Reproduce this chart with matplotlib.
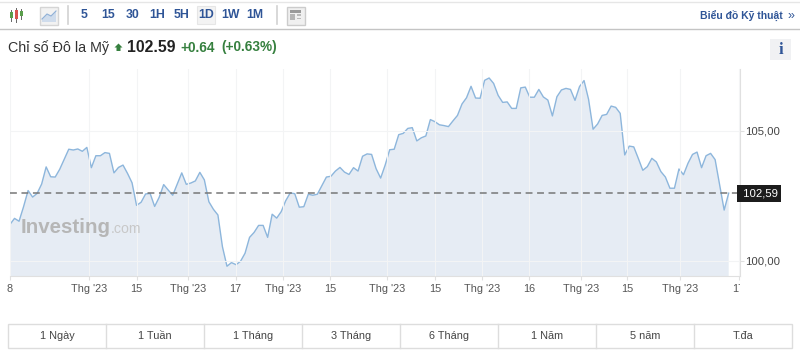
import numpy as np
import matplotlib.pyplot as plt
from matplotlib.patches import Rectangle, Polygon

plt.rcParams["font.family"] = ["Liberation Sans", "DejaVu Sans"]

W, H = 800, 353

prices = [
    101.39, 101.62, 101.51, 102.07, 102.69, 102.44, 102.58, 102.94, 103.60, 103.22,
    103.21, 103.51, 103.89, 104.28, 104.25, 104.29, 104.20, 104.35, 103.57, 104.03,
    104.03, 104.15, 104.12, 103.37, 103.58, 103.67, 103.35, 102.99, 102.12, 102.24,
    102.56, 102.58, 102.08, 102.43, 102.92, 102.71, 102.51, 102.94, 103.37, 102.93,
    102.98, 103.06, 103.39, 103.10, 102.26, 101.97, 101.75, 100.53, 99.78, 99.92,
    99.84, 99.97, 100.28, 100.89, 101.08, 101.35, 101.35, 100.89, 101.78, 101.63,
    101.88, 102.30, 102.60, 102.57, 102.05, 102.07, 102.55, 102.51, 102.55, 102.88,
    103.21, 103.24, 103.44, 103.58, 103.40, 103.31, 103.57, 103.44, 104.01, 104.10,
    104.08, 103.53, 103.17, 103.67, 104.26, 104.28, 104.84, 104.89, 105.08, 105.11,
    104.60, 104.72, 104.79, 105.42, 105.34, 105.22, 105.19, 105.15, 105.37, 105.58,
    106.02, 106.26, 106.70, 106.25, 106.24, 106.93, 107.02, 106.81, 106.35, 106.08,
    106.10, 105.85, 105.85, 106.64, 106.67, 106.28, 106.28, 106.58, 106.29, 106.17,
    105.56, 106.30, 106.56, 106.62, 106.58, 106.16, 106.69, 106.92, 106.20, 105.05,
    105.25, 105.58, 105.62, 105.94, 105.89, 105.66, 104.06, 104.40, 104.37, 103.93,
    103.47, 103.61, 103.93, 103.79, 103.42, 103.21, 102.78, 102.78, 103.52, 103.30,
    103.74, 104.08, 104.17, 103.57, 104.03, 104.12, 103.88, 102.90, 101.94, 102.59,
]
last_price = 102.59
x_ticks = [0, 17.4, 28, 39.3, 49.9, 60.5, 70.9, 83.4, 94, 104.4, 114.8, 126.3, 136.6, 148.3, 161.2]
x_labels = ["8", "Thg '23", "15", "Thg '23", "17", "Thg '23", "15", "Thg '23", "15",
            "Thg '23", "16", "Thg '23", "15", "Thg '23", "17"]
y_ticks = [100, 105]
y_labels = ["100,00", "105,00"]
intervals = ["5", "15", "30", "1H", "5H", "1D", "1W", "1M"]
ranges = ["1 Ngày", "1 Tuần", "1 Tháng", "3 Tháng", "6 Tháng", "1 Năm", "5 năm", "T.đa"]

BLUE = "#2f5597"
GREEN = "#36803f"
DARK = "#333333"
GRID = "#f3f4f5"

fig = plt.figure(figsize=(W / 100, H / 100), dpi=100, facecolor="white")

# page furniture in pixel coordinates
bg = fig.add_axes([0, 0, 1, 1])
bg.set_xlim(0, W)
bg.set_ylim(H, 0)
bg.axis("off")

bg.plot([0, W], [1.5, 1.5], color="#e6e6e6", lw=1)
bg.plot([0, W], [28.5, 28.5], color="#c4c4c4", lw=1)

# candle icon
for cx, top, bottom, col in [(11, 10, 21, "#5a9e4b"), (16, 8, 22, "#d9534f"), (21, 9, 19, "#5a9e4b")]:
    bg.plot([cx, cx], [top, bottom], color="#666666", lw=0.7)
    bg.add_patch(Rectangle((cx - 1.5, top + 2), 3, bottom - top - 5, fc=col, ec="none", zorder=3))

# line icon
bg.add_patch(Rectangle((39.5, 6.5), 18, 18, fc="#f2f2f2", ec="#d5d5d5", lw=1))
bg.add_patch(Polygon([(42, 19), (47, 14), (51, 16), (56, 11), (56, 22), (42, 22)], fc="#cfdcec", ec="none"))
bg.plot([42, 47, 51, 56], [19, 14, 16, 11], color="#8fb0d6", lw=0.8)

bg.plot([67.5, 67.5], [6, 24], color="#d2d2d2", lw=1.2)
bg.plot([277, 277], [6, 24], color="#d2d2d2", lw=1.2)

bg.add_patch(Rectangle((197, 6), 18, 18, fc="#f3f3f3", ec="#e6e6e6", lw=0.8))
for label, px in zip(intervals, [84, 108.5, 133, 157, 182, 206, 230.5, 255]):
    bg.text(px, 15, label, color=BLUE, fontsize=8.8, fontweight="bold", ha="center", va="center")

# news icon
bg.add_patch(Rectangle((286.5, 6.5), 18, 18, fc="#f0f0f0", ec="#cccccc", lw=1))
bg.add_patch(Rectangle((290, 9.5), 11, 3, fc="#9a9a9a", ec="none"))
bg.add_patch(Rectangle((290, 14), 5, 6, fc="#b5b5b5", ec="none"))
bg.add_patch(Rectangle((296.5, 14), 4.5, 1.5, fc="#bbbbbb", ec="none"))
bg.add_patch(Rectangle((296.5, 17.5), 4.5, 1.5, fc="#bbbbbb", ec="none"))

bg.text(783, 15, "Biểu đồ Kỹ thuật", color=BLUE, fontsize=7.5, fontweight="bold", ha="right", va="center")
bg.text(791, 15.5, "»", color=BLUE, fontsize=9, ha="center", va="center")

# title row
bg.text(8, 52, "Chỉ số Đô la Mỹ", color=DARK, fontsize=10.3, va="baseline")
bg.add_patch(Polygon([(118.5, 43.5), (122.5, 47.5), (120.5, 47.5), (120.5, 51),
                      (116.5, 51), (116.5, 47.5), (114.5, 47.5)], fc=GREEN, ec="none"))
bg.text(127, 52, "102.59", color="#222222", fontsize=11.4, fontweight="bold", va="baseline")
bg.text(180, 51.5, "+0.64", color=GREEN, fontsize=9.8, fontweight="bold", va="baseline")
bg.text(221, 51.5, "(+0.63%)", color=GREEN, fontsize=9.8, fontweight="bold", va="baseline")

bg.add_patch(Rectangle((770, 39), 21, 21, fc="#f0f1f3", ec="none"))
bg.text(780.5, 49.5, "i", color=BLUE, fontsize=12, fontweight="bold", family="Liberation Serif",
        ha="center", va="center")

# range buttons
edges = np.linspace(8, 792, len(ranges) + 1)
bg.add_patch(Rectangle((edges[0], 324), edges[-1] - edges[0], 23.5, fc="white", ec="#dddddd", lw=1))
for i, label in enumerate(ranges):
    if i > 0:
        bg.plot([edges[i], edges[i]], [324, 347.5], color="#dddddd", lw=1)
    bg.text((edges[i] + edges[i + 1]) / 2, 336, label, color="#444444", fontsize=7.8,
            ha="center", va="center")

# chart
left, right, top, bottom = 10, 740, 69, 276
ax = fig.add_axes([left / W, 1 - bottom / H, (right - left) / W, (bottom - top) / H])
ax.patch.set_alpha(0)
x = np.arange(len(prices))
ax.fill_between(x, prices, 90, color="#e6ecf4", lw=0, zorder=1)
ax.plot(x, prices, color="#8db6dc", lw=1, zorder=2)
ax.set_xlim(0, 730 / 4.52)
ax.set_ylim(100 - 15.5 / 26, 105 + 61.5 / 26)

ax.set_xticks(x_ticks)
ax.set_xticklabels(x_labels)
ax.set_yticks(y_ticks)
ax.set_yticklabels(y_labels)
ax.yaxis.tick_right()
ax.tick_params(axis="x", length=3, width=0.8, color="#e0e0e0", labelcolor="#555555", labelsize=7.8, pad=2.5)
ax.tick_params(axis="y", length=3, width=0.8, color="#e0e0e0", labelcolor="#444444", labelsize=8.2, pad=1)
ax.grid(True, color=GRID, lw=0.8, zorder=0)
ax.set_axisbelow(False)
for side in ["top", "left"]:
    ax.spines[side].set_visible(False)
for side in ["bottom", "right"]:
    ax.spines[side].set_color("#e0e0e0")

ax.axhline(last_price, color="#777777", lw=1.1, dashes=(4.5, 3), zorder=3)
ax.text(1.0, last_price, " 102,59", transform=ax.get_yaxis_transform(), color="white", fontsize=8.2,
        ha="left", va="center",
        bbox=dict(boxstyle="square,pad=0.3", fc="#1c1c1c", ec="none"), zorder=5)

# top layer: watermark, and white block cutting off the last date label
bg2 = fig.add_axes([0, 0, 1, 1])
bg2.set_xlim(0, W)
bg2.set_ylim(H, 0)
bg2.axis("off")
bg2.text(21, 227.5, "Investing", color="#b6b6b6", fontsize=14.8, fontweight="bold", va="center")
bg2.text(111, 229, ".com", color="#c8c8c8", fontsize=10.2, va="center")
bg2.add_patch(Rectangle((740, 281), 12, 16, fc="white", ec="none"))

fig.savefig("out.png", dpi=100)
